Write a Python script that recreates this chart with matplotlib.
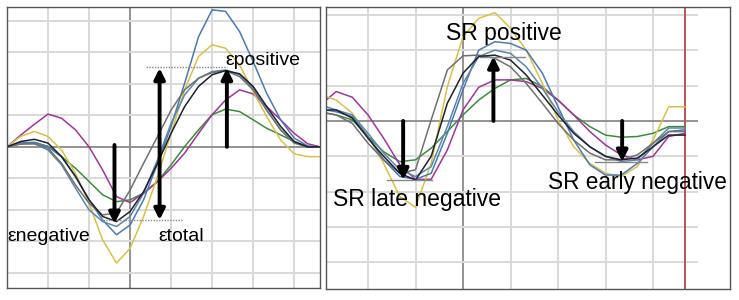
import matplotlib
matplotlib.use("Agg")
import matplotlib.pyplot as plt

plt.rcParams['font.family'] = ['Liberation Sans', 'DejaVu Sans']

# ---------------- strain (left) ----------------
t_izq = [0, 0.33, 0.67, 1.0, 1.33, 1.67, 2.0, 2.33, 2.67, 3.0, 3.33, 3.67,
         4.0, 4.33, 4.67, 5.0, 5.33, 5.67, 6.0, 6.33, 6.67, 7.0, 7.33, 7.63]

e_morado = [0, 0.37, 0.72, 1.04, 0.91, 0.54, 0.0, -0.73, -1.58, -1.77, -1.47, -1.10,
            -0.68, -0.20, 0.43, 1.02, 1.49, 1.81, 1.68, 1.28, 0.86, 0.43, 0.10, 0]
e_azul = [0, 0.14, 0.14, 0.01, -0.31, -0.94, -1.68, -2.32, -2.79, -2.48, -1.68, -0.52,
          0.65, 2.02, 3.50, 4.35, 4.30, 3.66, 2.71, 1.70, 0.86, 0.28, 0.03, 0]
e_amarillo = [0, 0.33, 0.49, 0.33, -0.10, -0.84, -1.79, -2.95, -3.69, -3.22, -2.21, -0.94,
              0.43, 1.81, 2.87, 3.24, 3.13, 2.60, 1.76, 0.96, 0.22, -0.22, -0.31, -0.31]
e_verde = [0, 0.10, 0.14, 0.01, -0.31, -0.68, -1.10, -1.52, -1.74, -1.68, -1.47, -1.10,
           -0.57, 0.01, 0.54, 1.02, 1.20, 1.12, 0.86, 0.59, 0.38, 0.17, 0, 0]
e_negro = [0, 0.17, 0.24, 0.12, -0.31, -0.94, -1.68, -2.21, -2.37, -2.05, -1.42, -0.52,
           0.43, 1.28, 1.92, 2.29, 2.42, 2.32, 1.92, 1.28, 0.65, 0.17, 0, 0]
e_gris = [0, 0.09, 0.10, -0.04, -0.52, -1.21, -1.79, -2.16, -2.10, -1.37, -0.52, 0.33,
          1.17, 1.81, 2.18, 2.36, 2.42, 2.23, 1.81, 1.17, 0.54, 0.12, 0, 0]
e_teal = [0, 0.10, 0.10, -0.10, -0.57, -1.31, -2.00, -2.37, -2.53, -2.21, -1.47, -0.41,
          0.75, 1.65, 2.18, 2.39, 2.44, 2.29, 1.86, 1.17, 0.54, 0.14, 0, 0]

# ---------------- strain rate (right) ----------------
t_der = [0.12, 0.33, 0.67, 1.0, 1.33, 1.67, 2.0, 2.33, 2.67, 3.0, 3.33, 3.67,
         4.0, 4.33, 4.67, 5.0, 5.33, 5.67, 6.0, 6.33, 6.67, 7.0, 7.33, 7.67]

sr_amarillo = [0.69, 0.59, 0.22, -0.44, -1.20, -2.14, -2.44, -1.20, 0.97, 2.38, 2.90, 3.06,
               2.62, 2.00, 1.06, 0.03, -0.73, -1.20, -1.48, -1.57, -1.29, -0.54, 0.40, 0.40]
sr_morado = [0.59, 0.83, 0.67, 0.17, -0.49, -1.24, -1.65, -1.65, -0.82, 0.31, 0.95, 1.16,
             1.16, 1.11, 0.92, 0.59, 0.17, -0.30, -0.68, -0.96, -1.10, -1.00, -0.44, -0.35]
sr_verde = [0.22, 0.17, 0.03, -0.44, -0.87, -1.15, -1.10, -0.77, -0.30, 0.17, 0.59, 0.92,
            1.16, 1.20, 0.97, 0.59, 0.17, -0.16, -0.40, -0.46, -0.44, -0.35, -0.16, -0.16]
sr_azul = [0.31, 0.26, 0.12, -0.44, -1.10, -1.57, -1.65, -1.48, -0.35, 0.88, 2.00, 2.24,
           2.19, 2.00, 1.35, 0.40, -0.54, -1.24, -1.53, -1.53, -1.20, -0.73, -0.30, -0.25]
sr_negro = [0.31, 0.31, 0.08, -0.49, -1.00, -1.48, -1.67, -1.00, 0.50, 1.35, 1.82, 1.86,
            1.72, 1.30, 0.73, 0.17, -0.35, -0.73, -1.00, -1.10, -1.05, -0.73, -0.40, -0.40]
sr_gris = [0.22, 0.17, -0.07, -0.63, -1.10, -1.48, -1.38, 0.03, 1.44, 1.84, 1.86, 1.77,
           1.53, 1.06, 0.50, -0.07, -0.54, -0.91, -1.10, -1.10, -0.96, -0.63, -0.30, -0.30]
sr_teal = [0.40, 0.31, 0.17, -0.35, -0.91, -1.38, -1.57, -1.29, -0.16, 1.06, 1.82, 2.00,
           1.91, 1.53, 0.92, 0.26, -0.30, -0.73, -1.00, -1.15, -1.10, -0.63, -0.20, -0.20]

colores = {
    'morado': '#a0349c', 'azul': '#4a7ab5', 'amarillo': '#d8c245',
    'verde': '#3d8c3d', 'negro': '#202030', 'gris': '#707070', 'teal': '#5a88a8',
}

fig = plt.figure(figsize=(7.39, 3.0), dpi=100)
ax1 = fig.add_axes([7 / 739, 12 / 300, 313 / 739, 281 / 300])
ax2 = fig.add_axes([326 / 739, 11 / 300, 404 / 739, 282 / 300])

grid_c = '#d9d9d9'
eje_c = '#8a8a8a'

# --- panel izquierdo ---
ax1.set_xlim(0, 7.63)
ax1.set_ylim(-4.48, 4.44)
for x in range(1, 8):
    ax1.axvline(x, color=eje_c if x == 3 else grid_c, lw=1.3 if x == 3 else 1.4, zorder=0)
for y in range(-4, 5):
    ax1.axhline(y, color=eje_c if y == 0 else grid_c, lw=1.3 if y == 0 else 1.4, zorder=0)

curvas_izq = [(e_verde, 'verde'), (e_morado, 'morado'), (e_amarillo, 'amarillo'),
              (e_azul, 'azul'), (e_teal, 'teal'), (e_gris, 'gris'), (e_negro, 'negro')]
for datos, c in curvas_izq:
    ax1.plot(t_izq, datos, color=colores[c], lw=1.1, zorder=2)

ax1.plot([3.4, 5.36], [2.52, 2.52], color='#888888', lw=1, ls=(0, (1, 1)), zorder=3)
ax1.plot([2.35, 4.26], [-2.32, -2.32], color='#888888', lw=1, ls=(0, (1, 1)), zorder=3)

flecha = dict(arrowstyle='-|>', color='black', lw=2.8, mutation_scale=16, shrinkA=0, shrinkB=0)
ax1.annotate('', xy=(2.62, -2.44), xytext=(2.62, 0.06), arrowprops=flecha, zorder=4)
ax1.annotate('', xy=(5.36, 2.5), xytext=(5.36, 0.0), arrowprops=flecha, zorder=4)
doble = dict(flecha, arrowstyle='<|-|>')
ax1.annotate('', xy=(3.72, 2.5), xytext=(3.72, -2.32), arrowprops=doble, zorder=4)

ax1.text(0.02, -2.85, 'εnegative', fontsize=14, va='center', ha='left')
ax1.text(3.68, -2.85, 'εtotal', fontsize=14, va='center', ha='left')
ax1.text(5.32, 2.75, 'εpositive', fontsize=14, va='center', ha='left')

# --- panel derecho ---
ax2.set_xlim(0.116, 8.62)
ax2.set_ylim(-4.75, 3.22)
for x in range(1, 8):
    ax2.axvline(x, color=eje_c if x == 3 else grid_c, lw=1.3 if x == 3 else 1.4, zorder=0)
for y in range(-4, 4):
    ax2.hlines(y, 0.116, 7.95, color=eje_c if y == 0 else grid_c,
               lw=1.3 if y == 0 else 1.4, zorder=0)
ax2.axvline(7.67, color='#c05050', lw=1.4, zorder=1)

curvas_der = [(sr_verde, 'verde'), (sr_morado, 'morado'), (sr_amarillo, 'amarillo'),
              (sr_azul, 'azul'), (sr_teal, 'teal'), (sr_gris, 'gris'), (sr_negro, 'negro')]
for datos, c in curvas_der:
    ax2.plot(t_der, datos, color=colores[c], lw=1.1, zorder=2)

ax2.plot([3.36, 4.31], [1.82, 1.82], color='#888888', lw=1, zorder=3)
ax2.plot([5.78, 6.87], [-1.17, -1.17], color='#888888', lw=1, zorder=3)
ax2.plot([1.4, 2.35], [-1.67, -1.67], color='#888888', lw=1, zorder=3)

ax2.annotate('', xy=(1.74, -1.67), xytext=(1.74, 0.0), arrowprops=flecha, zorder=4)
ax2.annotate('', xy=(3.64, 1.82), xytext=(3.64, 0.0), arrowprops=flecha, zorder=4)
ax2.annotate('', xy=(6.35, -1.15), xytext=(6.35, 0.0), arrowprops=flecha, zorder=4)

ax2.text(2.64, 2.48, 'SR positive', fontsize=16.5, va='center', ha='left')
ax2.text(0.26, -2.22, 'SR late negative', fontsize=16.5, va='center', ha='left')
ax2.text(4.79, -1.74, 'SR early negative', fontsize=16.3, va='center', ha='left')

for ax in (ax1, ax2):
    ax.set_xticks([])
    ax.set_yticks([])
    for s in ax.spines.values():
        s.set_color('#555555')
        s.set_linewidth(1.0)

fig.savefig('out.png', dpi=100)
